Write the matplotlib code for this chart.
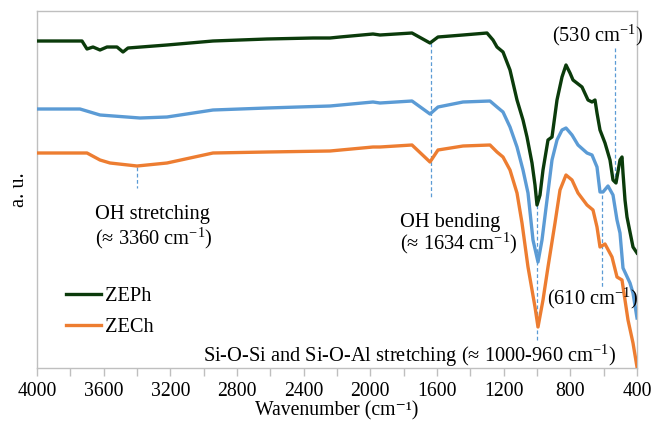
import matplotlib
matplotlib.use("Agg")
import matplotlib.pyplot as plt
from matplotlib.ticker import MultipleLocator

plt.rcParams['font.family'] = ['Liberation Serif', 'DejaVu Serif']
plt.rcParams['mathtext.fontset'] = 'custom'
plt.rcParams['mathtext.rm'] = 'Liberation Serif'
plt.rcParams['mathtext.it'] = 'Liberation Serif:italic'

# ---- data (wavenumber cm-1, intensity a.u.) ----
wn_zeph = [4000, 3730, 3700, 3664, 3622, 3580, 3520, 3484, 3454, 3220, 2944, 2620, 2344, 2242, 2182,
           1984, 1942, 1750, 1642, 1594, 1444, 1300, 1264, 1240, 1204, 1162, 1120, 1084, 1060, 1030,
           1012, 1000, 982, 964, 934, 910, 880, 850, 826, 802, 784, 730, 694, 670, 652, 640, 622,
           592, 562, 544, 526, 502, 490, 484, 472, 460, 424, 400]
int_zeph = [327, 327, 319, 321, 318, 321, 321, 316, 320, 323, 327, 329, 330, 330, 331,
            334, 333, 335, 325, 331, 333, 335, 328, 321, 316, 298, 268, 248, 231, 205,
            183, 163, 173, 198, 228, 231, 268, 291, 303, 295, 288, 281, 268, 266, 268, 255, 238,
            225, 208, 188, 185, 208, 211, 195, 168, 151, 121, 115]

wn_ze = [4000, 3742, 3622, 3382, 3220, 2944, 2620, 2242, 1984, 1942, 1750, 1642, 1594, 1444, 1282,
         1240, 1204, 1162, 1120, 1084, 1054, 1024, 994, 970, 940, 910, 880, 850, 826, 790, 754,
         700, 670, 640, 622, 604, 574, 544, 520, 502, 484, 442, 424, 400]
int_ze = [259, 259, 253, 250, 251, 258, 260, 262, 266, 265, 267, 254, 261, 266, 267,
          261, 256, 241, 221, 198, 175, 128, 106, 128, 168, 208, 228, 238, 240, 233, 223,
          215, 213, 201, 176, 176, 182, 173, 148, 135, 100, 85, 75, 50]

wn_zech = [4000, 3700, 3622, 3562, 3400, 3220, 2944, 2620, 2242, 1984, 1942, 1750, 1642, 1594, 1444,
           1282, 1240, 1204, 1162, 1120, 1090, 1054, 1012, 994, 964, 934, 892, 862, 826, 790, 754,
           700, 664, 640, 622, 592, 550, 520, 490, 472, 454, 424, 400]
int_zech = [215, 215, 208, 205, 202, 205, 215, 216, 217, 221, 221, 223, 206, 218, 222,
            223, 216, 211, 198, 175, 145, 101, 61, 41, 68, 101, 145, 178, 193, 188, 175,
            163, 158, 141, 121, 124, 111, 91, 88, 68, 48, 25, 1]

# annotation marker lines: (wavenumber, y_start, y_end)
marker_wn = [3400, 1634, 1000, 610, 530]
marker_y0 = [201, 325, 163, 173, 320]
marker_y1 = [180, 170, 28, 81, 191]

GREEN = '#0b3b0b'
BLUE = '#5b9bd5'
ORANGE = '#ed7d31'
GRAY = '#bfbfbf'
FS = 14.7
FS_AX = 14.2

fig = plt.figure(figsize=(6.55, 4.23), dpi=100)
ax = fig.add_axes([37/655, 55/423, 600/655, 357/423])

for x, y0, y1 in zip(marker_wn, marker_y0, marker_y1):
    ax.plot([x, x], [y0, y1], color=BLUE, lw=0.9, dashes=(3, 2), zorder=1)

ax.plot(wn_zech, int_zech, color=ORANGE, lw=2.4, label='ZECh', zorder=3, solid_joinstyle='round')
ax.plot(wn_ze, int_ze, color=BLUE, lw=2.4, label='_nolegend_', zorder=3, solid_joinstyle='round')
ax.plot(wn_zeph, int_zeph, color=GREEN, lw=2.4, label='ZEPh', zorder=4, solid_joinstyle='round')

ax.set_xlim(4000, 400)
ax.set_ylim(0, 357)
ax.xaxis.set_major_locator(MultipleLocator(400))
ax.xaxis.set_minor_locator(MultipleLocator(200))
ax.tick_params(axis='x', which='both', direction='out', length=6, width=1, color=GRAY,
               labelsize=FS_AX, pad=4)
ax.set_yticks([])
for s in ax.spines.values():
    s.set_color(GRAY)
    s.set_linewidth(1)

ax.set_xlabel('Wavenumber (cm\u207b\u00b9)', fontsize=FS_AX, va='top')
ax.set_ylabel('a. u.', fontsize=FS, labelpad=6)

cm = r'cm$^{\mathregular{-1}}$'
ax.text(3652, 154, 'OH stretching', fontsize=FS, ha='left', va='center')
ax.text(3652, 130, '(≈ 3360 ' + cm + ')', fontsize=FS, ha='left', va='center')
ax.text(1822, 146, 'OH bending', fontsize=FS, ha='left', va='center')
ax.text(1822, 125, '(≈ 1634 ' + cm + ')', fontsize=FS, ha='left', va='center')
ax.text(910, 333, '(530 ' + cm + ')', fontsize=FS, ha='left', va='center')
ax.text(940, 70, '(610 ' + cm + ')', fontsize=FS, ha='left', va='center')
ax.text(3004, 12, 'Si-O-Si and Si-O-Al stretching (≈ 1000-960 ' + cm + ')', fontsize=FS,
        ha='left', va='center')

handles, labels = ax.get_legend_handles_labels()
order = [labels.index('ZEPh'), labels.index('ZECh')]
ax.legend([handles[i] for i in order], [labels[i] for i in order],
          loc='upper left', bbox_to_anchor=(0.048, 0.228), frameon=False, fontsize=FS,
          handlelength=1.7, handletextpad=0.2, labelspacing=0.6, borderpad=0, borderaxespad=0)

# place the x label directly under the tick labels
fig.canvas.draw()
r = fig.canvas.get_renderer()
tick_bottom = min(t.get_window_extent(r).y0 for t in ax.get_xticklabels() if t.get_text())
ax_bb = ax.get_window_extent(r)
ax.xaxis.set_label_coords(0.5, (tick_bottom - 0.5 - ax_bb.y0) / ax_bb.height)

fig.savefig('out.png', dpi=100)
